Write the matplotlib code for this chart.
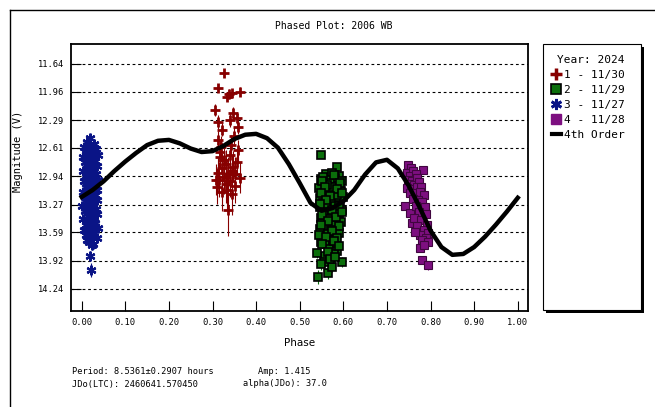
import matplotlib
matplotlib.use("Agg")
import matplotlib.pyplot as plt
from matplotlib.lines import Line2D
from matplotlib.patches import Rectangle

# ---- data ----
yticks = [11.64, 11.96, 12.29, 12.61, 12.94, 13.27, 13.59, 13.92, 14.24]
xticks = [0.0, 0.1, 0.2, 0.3, 0.4, 0.5, 0.6, 0.7, 0.8, 0.9, 1.0]

# session 1 - 11/30
red_phase = [0.326, 0.313, 0.345, 0.363, 0.333, 0.338, 0.306, 0.347, 0.356, 0.340,
             0.321, 0.359, 0.313, 0.313, 0.350, 0.359, 0.317, 0.330, 0.322, 0.313,
             0.345, 0.363, 0.310, 0.333, 0.340, 0.326, 0.352, 0.336, 0.320, 0.342,
             0.308, 0.357, 0.318, 0.340, 0.326, 0.348, 0.316, 0.330, 0.345, 0.322,
             0.336, 0.352]
red_mag = [11.74, 11.92, 11.98, 11.96, 12.02, 11.99, 12.17, 12.21, 12.27, 12.29,
           12.40, 12.37, 12.31, 12.52, 12.47, 12.64, 12.72, 12.80, 12.85, 12.90,
           12.88, 12.96, 13.06, 13.10, 13.00, 12.95, 13.05, 13.33, 12.60, 12.58,
           12.98, 12.78, 12.66, 12.70, 12.75, 12.83, 12.98, 13.03, 13.15, 13.12,
           12.92, 12.92]
red_err = [0.04, 0.05, 0.05, 0.05, 0.05, 0.06, 0.07, 0.07, 0.07, 0.08,
           0.08, 0.08, 0.08, 0.10, 0.10, 0.12, 0.14, 0.16, 0.18, 0.18,
           0.18, 0.18, 0.20, 0.22, 0.18, 0.20, 0.20, 0.30, 0.12, 0.12,
           0.18, 0.16, 0.14, 0.15, 0.16, 0.18, 0.20, 0.22, 0.24, 0.22,
           0.20, 0.20]

# session 2 - 11/29
green_phase = [0.549, 0.585, 0.560, 0.575, 0.590, 0.548, 0.566, 0.582, 0.597, 0.552,
               0.570, 0.588, 0.545, 0.562, 0.578, 0.594, 0.556, 0.573, 0.600, 0.547,
               0.565, 0.584, 0.553, 0.571, 0.592, 0.546, 0.563, 0.580, 0.598, 0.555,
               0.574, 0.589, 0.549, 0.568, 0.585, 0.551, 0.577, 0.595, 0.558, 0.572,
               0.587, 0.546, 0.564, 0.581, 0.554, 0.569, 0.591, 0.559, 0.576, 0.548,
               0.567, 0.586, 0.557, 0.579, 0.553, 0.571, 0.583, 0.561, 0.575, 0.544,
               0.543, 0.566, 0.597, 0.575, 0.540, 0.556, 0.562, 0.586,
               0.551, 0.579, 0.593, 0.558, 0.586, 0.548, 0.570, 0.597, 0.560, 0.589,
               0.546, 0.575, 0.552, 0.583, 0.597, 0.566, 0.590, 0.549, 0.573, 0.560,
               0.586, 0.552, 0.578, 0.565, 0.590, 0.570, 0.582, 0.548]
green_mag = [12.69, 12.83, 12.92, 12.90, 12.94, 12.97, 12.98, 12.96, 13.00, 13.03,
             13.02, 13.05, 13.08, 13.10, 13.07, 13.11, 13.14, 13.15, 13.18, 13.19,
             13.20, 13.22, 13.25, 13.24, 13.27, 13.30, 13.31, 13.29, 13.33, 13.36,
             13.37, 13.39, 13.42, 13.43, 13.45, 13.48, 13.50, 13.47, 13.53, 13.56,
             13.58, 13.55, 13.61, 13.63, 13.66, 13.68, 13.60, 13.72, 13.74, 13.70,
             13.78, 13.80, 13.86, 13.84, 12.95, 13.12, 13.35, 13.26, 13.06, 13.62,
             14.11, 14.06, 13.93, 13.99, 13.83, 13.93, 13.04, 13.16,
             12.99, 12.93, 13.02, 13.06, 13.09, 13.13, 13.17, 13.14, 13.22, 13.28,
             13.26, 13.33, 13.39, 13.41, 13.36, 13.46, 13.52, 13.51, 13.57, 13.64,
             13.66, 13.72, 13.69, 13.82, 13.75, 13.90, 13.88, 13.96]
green_err = [0.04, 0.04, 0.03, 0.03, 0.03, 0.03, 0.03, 0.03, 0.03, 0.03,
             0.03, 0.03, 0.03, 0.03, 0.03, 0.03, 0.03, 0.03, 0.03, 0.03,
             0.03, 0.03, 0.03, 0.03, 0.03, 0.03, 0.03, 0.03, 0.03, 0.03,
             0.03, 0.03, 0.04, 0.04, 0.04, 0.04, 0.04, 0.04, 0.04, 0.04,
             0.04, 0.04, 0.04, 0.04, 0.04, 0.04, 0.04, 0.05, 0.05, 0.05,
             0.05, 0.05, 0.05, 0.05, 0.03, 0.03, 0.03, 0.03, 0.03, 0.04,
             0.08, 0.07, 0.06, 0.06, 0.06, 0.06, 0.03, 0.03,
             0.03, 0.03, 0.03, 0.03, 0.03, 0.03, 0.03, 0.03, 0.03, 0.03,
             0.03, 0.03, 0.04, 0.04, 0.04, 0.04, 0.04, 0.04, 0.04, 0.05,
             0.05, 0.05, 0.05, 0.06, 0.05, 0.06, 0.06, 0.06]

# session 3 - 11/27
blue_phase = [0.020, 0.012, 0.028, 0.006, 0.018, 0.033, 0.010, 0.024, 0.037, 0.004,
              0.016, 0.030, 0.008, 0.022, 0.035, 0.013, 0.027, 0.002, 0.019, 0.032,
              0.009, 0.024, 0.038, 0.005, 0.015, 0.029, 0.011, 0.021, 0.034, 0.003,
              0.017, 0.031, 0.007, 0.023, 0.036, 0.012, 0.026, 0.001, 0.018, 0.033,
              0.008, 0.021, 0.035, 0.014, 0.028, 0.004, 0.019, 0.031, 0.010, 0.024,
              0.037, 0.006, 0.016, 0.029, 0.011, 0.022, 0.034, 0.013, 0.017, 0.027,
              0.009, 0.020, 0.032, 0.014, 0.025, 0.007, 0.018, 0.023, 0.020, 0.021]
blue_mag = [12.50, 12.54, 12.57, 12.60, 12.61, 12.63, 12.66, 12.68, 12.70, 12.72,
            12.74, 12.76, 12.78, 12.80, 12.82, 12.84, 12.86, 12.88, 12.90, 12.92,
            12.94, 12.96, 12.98, 13.00, 13.02, 13.04, 13.06, 13.08, 13.10, 13.12,
            13.14, 13.16, 13.18, 13.20, 13.22, 13.24, 13.26, 13.28, 13.30, 13.32,
            13.34, 13.36, 13.38, 13.40, 13.42, 13.44, 13.46, 13.48, 13.50, 13.52,
            13.54, 13.56, 13.58, 13.60, 13.62, 13.64, 13.66, 13.68, 13.70, 13.72,
            12.65, 12.85, 13.05, 13.25, 12.95, 13.15, 13.35, 13.74, 13.86, 14.03]
blue_err = [0.03, 0.03, 0.03, 0.03, 0.03, 0.03, 0.03, 0.03, 0.03, 0.03,
            0.03, 0.03, 0.03, 0.03, 0.03, 0.03, 0.03, 0.03, 0.03, 0.03,
            0.03, 0.03, 0.03, 0.03, 0.03, 0.03, 0.03, 0.03, 0.03, 0.03,
            0.03, 0.03, 0.03, 0.03, 0.03, 0.03, 0.03, 0.03, 0.03, 0.03,
            0.03, 0.03, 0.03, 0.03, 0.03, 0.03, 0.03, 0.03, 0.03, 0.03,
            0.04, 0.04, 0.04, 0.04, 0.04, 0.04, 0.04, 0.04, 0.04, 0.04,
            0.03, 0.03, 0.03, 0.03, 0.03, 0.03, 0.03, 0.05, 0.06, 0.08]

# session 4 - 11/28
purple_phase = [0.749, 0.783, 0.755, 0.745, 0.760, 0.752, 0.766, 0.748, 0.758, 0.770,
                0.750, 0.762, 0.774, 0.747, 0.756, 0.768, 0.778, 0.753, 0.764, 0.776,
                0.785, 0.742, 0.759, 0.771, 0.781, 0.753, 0.767, 0.788, 0.757, 0.773,
                0.790, 0.763, 0.779, 0.792, 0.769, 0.784, 0.794, 0.775, 0.789, 0.780,
                0.794, 0.776, 0.780, 0.794, 0.786, 0.765]
purple_mag = [12.81, 12.87, 12.84, 12.90, 12.88, 12.94, 12.92, 12.98, 12.99, 12.96,
              13.03, 13.04, 13.01, 13.08, 13.09, 13.07, 13.06, 13.13, 13.14, 13.12,
              13.16, 13.29, 13.20, 13.21, 13.24, 13.37, 13.28, 13.30, 13.48, 13.35,
              13.38, 13.42, 13.45, 13.50, 13.52, 13.56, 13.60, 13.62, 13.66, 13.68,
              13.70, 13.77, 13.91, 13.97, 13.74, 13.58]
purple_err = [0.03, 0.03, 0.03, 0.03, 0.03, 0.03, 0.03, 0.03, 0.03, 0.03,
              0.03, 0.03, 0.03, 0.03, 0.03, 0.03, 0.03, 0.03, 0.03, 0.03,
              0.03, 0.03, 0.03, 0.03, 0.03, 0.03, 0.03, 0.03, 0.03, 0.03,
              0.03, 0.03, 0.03, 0.03, 0.04, 0.04, 0.04, 0.04, 0.04, 0.04,
              0.04, 0.04, 0.05, 0.05, 0.04, 0.04]

# 4th order fit, read every 0.025 in phase
fit_phase = [0.000, 0.025, 0.050, 0.075, 0.100, 0.125, 0.150, 0.175, 0.200, 0.225,
             0.250, 0.275, 0.300, 0.325, 0.350, 0.375, 0.400, 0.425, 0.450, 0.475,
             0.500, 0.525, 0.550, 0.575, 0.600, 0.625, 0.650, 0.675, 0.700, 0.725,
             0.750, 0.775, 0.800, 0.825, 0.850, 0.875, 0.900, 0.925, 0.950, 0.975,
             1.000]
fit_mag = [13.18, 13.10, 13.00, 12.88, 12.77, 12.67, 12.58, 12.53, 12.52, 12.56,
           12.62, 12.66, 12.65, 12.59, 12.51, 12.46, 12.45, 12.50, 12.61, 12.80,
           13.02, 13.25, 13.34, 13.31, 13.23, 13.10, 12.92, 12.78, 12.75, 12.85,
           13.05, 13.30, 13.57, 13.76, 13.85, 13.84, 13.76, 13.64, 13.50, 13.35,
           13.19]

mono = "DejaVu Sans Mono"
W, H = 655, 407
asterisk = (6, 2, 0)
red, green, blue, purple = "#870000", "#0b6e0b", "#0a1486", "#7d0f80"

fig = plt.figure(figsize=(6.55, 4.07), dpi=100)
ax = fig.add_axes([71 / W, 1 - 311 / H, (528 - 71) / W, (311 - 44) / H])

# error bars + markers
ax.errorbar(red_phase, red_mag, yerr=red_err, fmt="+", color=red,
            ms=7, mew=2, elinewidth=0.8, zorder=3)
ax.errorbar(green_phase, green_mag, yerr=green_err, fmt="s", mfc=green,
            mec="black", ecolor=green, ms=5.5, mew=1.2, elinewidth=0.8, zorder=3)
ax.errorbar(blue_phase, blue_mag, yerr=blue_err, fmt="none", ecolor=blue,
            elinewidth=0.8, zorder=3)
ax.plot(blue_phase, blue_mag, ls="none", marker=asterisk, color=blue,
        ms=7, mew=1.6, zorder=3)
ax.errorbar(purple_phase, purple_mag, yerr=purple_err, fmt="s", mfc=purple,
            mec="#40063f", ecolor=purple, ms=5.5, mew=0.8, elinewidth=0.8, zorder=3)
ax.plot(fit_phase, fit_mag, color="black", lw=3.2, zorder=4)

ax.set_xlim(-0.0245, 1.0235)
ax.set_ylim(14.50, 11.41)
ax.set_xticks(xticks)
ax.set_xticklabels(["%.2f" % t for t in xticks], fontfamily=mono, fontsize=6.3)
ax.set_yticks(yticks)
ax.set_yticklabels(["%.2f" % t for t in yticks], fontfamily=mono, fontsize=6.3)
ax.tick_params(direction="in", length=7, width=0.8, pad=5)
ax.grid(axis="y", color="black", linestyle=(0, (2.5, 2.5)), lw=0.8)
for s in ax.spines.values():
    s.set_linewidth(1.3)

ax.set_xlabel("Phase", fontsize=7.5, labelpad=8)
ax.set_ylabel("Magnitude (V)", fontsize=7.5, fontfamily=mono)
ax.yaxis.set_label_coords((23 - 71) / 457, (311 - 151) / 267)

fig.text(334 / W, 1 - 26 / H, "Phased Plot: 2006 WB", ha="center", va="center",
         fontfamily=mono, fontsize=7)
fig.text(72 / W, 1 - 371 / H, "Period: 8.5361\u00b10.2907 hours", va="center",
         fontfamily=mono, fontsize=6.2)
fig.text(72 / W, 1 - 384 / H, "JDo(LTC): 2460641.570450", va="center",
         fontfamily=mono, fontsize=6.2)
fig.text(258 / W, 1 - 371 / H, "Amp: 1.415", va="center", fontfamily=mono, fontsize=6.2)
fig.text(243 / W, 1 - 384 / H, "alpha(JDo): 37.0", va="center", fontfamily=mono,
         fontsize=6.2)

# outer frame lines
fig.add_artist(Line2D([10 / W, 10 / W], [0, 1 - 10 / H], transform=fig.transFigure,
                      color="black", lw=1))
fig.add_artist(Line2D([10 / W, 1], [1 - 10 / H, 1 - 10 / H], transform=fig.transFigure,
                      color="black", lw=1))

# legend box with shadow
fig.add_artist(Rectangle((546 / W, 1 - 313 / H), (644 - 546) / W, (313 - 47) / H,
                         transform=fig.transFigure, facecolor="black", edgecolor="none"))
fig.add_artist(Rectangle((543 / W, 1 - 310 / H), (641 - 543) / W, (310 - 44) / H,
                         transform=fig.transFigure, facecolor="white", edgecolor="black",
                         lw=0.8))

handles = [
    Line2D([], [], ls="none", marker="+", color=red, ms=8, mew=2.5),
    Line2D([], [], ls="none", marker="s", mfc=green, mec="black", ms=6.5, mew=1.2),
    Line2D([], [], ls="none", marker=asterisk, color=blue, ms=8, mew=2),
    Line2D([], [], ls="none", marker="s", mfc=purple, mec=purple, ms=6.5),
    Line2D([], [], color="black", lw=3),
]
labels = ["1 - 11/30", "2 - 11/29", "3 - 11/27", "4 - 11/28", "4th Order"]
leg = fig.legend(handles, labels, loc="upper left", bbox_to_anchor=(544 / W, 1 - 47 / H),
                 frameon=False, title="Year: 2024", handlelength=0.8, handletextpad=0.3,
                 labelspacing=0.45, borderpad=0.2, prop={"family": mono, "size": 8},
                 title_fontproperties={"family": mono, "size": 8})
leg._legend_box.align = "right"
leg.set_zorder(5)

fig.savefig("out.png", dpi=100)
